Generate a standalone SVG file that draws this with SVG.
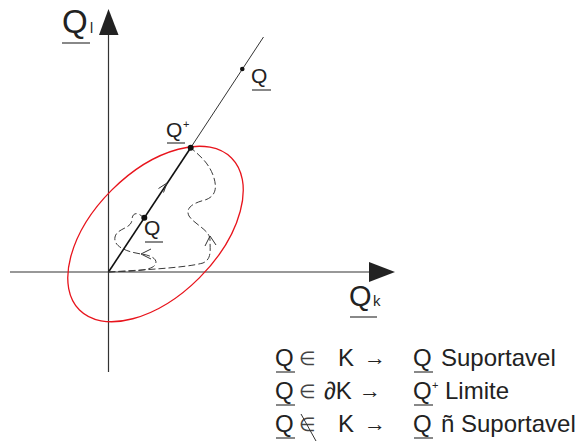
<svg xmlns="http://www.w3.org/2000/svg" width="582" height="445" viewBox="0 0 582 445">
<style>
text{font-family:"Liberation Sans",Arial,sans-serif;fill:#222}
.ax{stroke:#333;stroke-width:1.2;fill:none}
.ul{stroke:#555;stroke-width:1.4}
.dash{stroke:#3a3a3a;stroke-width:1;fill:none;stroke-dasharray:7 3}
.chev{stroke:#333;stroke-width:1;fill:none}
.lab{font-size:21px}
.leg{font-size:24px}
.el{font-size:19px;fill:#444}
.ar{font-size:22px}
</style>
<rect width="582" height="445" fill="#fff"/>
<g id="axes">
<line class="ax" x1="108.5" y1="30" x2="108.5" y2="372"/>
<polygon points="108.5,9 99,35 118.5,35" fill="#222"/>
<line class="ax" x1="10" y1="272" x2="372" y2="272"/>
<polygon points="395,272 369,262 369,282" fill="#222"/>
<text x="62" y="33" font-size="33">Q</text>
<text x="90" y="33" font-size="14">l</text>
<line class="ul" x1="62" y1="43" x2="90" y2="43"/>
<text x="349" y="306" font-size="29">Q</text>
<text x="373" y="306" font-size="15">k</text>
<line class="ul" x1="350" y1="317" x2="377" y2="317"/>
</g>
<g id="ellipse">
<ellipse cx="155.5" cy="234" rx="107.5" ry="62" transform="rotate(-45 155.5 234)" fill="none" stroke="#e8141c" stroke-width="1.3"/>
</g>
<g id="connectors">
<line x1="108.5" y1="272" x2="190.7" y2="147.7" stroke="#111" stroke-width="1.6"/>
<line x1="190.7" y1="147.7" x2="263.5" y2="37" stroke="#333" stroke-width="1"/>
<polyline class="chev" points="158.5,188.5 167,183 163.5,192.5"/>
<path class="dash" d="M108.5,272 C125,271 150,272 155,265 C159,259 150,255 141,254 C128,252 113,247 115,237 C117,228 131,229 132,220 C132,213 137,211 144,218"/>
<polyline class="chev" points="151,249 141,254 151,259"/>
<path class="dash" d="M108.5,272 C140,270 185,268 203,263 C212,259 210,250 210,240 C210,230 195,225 189,216 C185,208 193,203 205,200 C217,196 217,186 213,175 C208,162 199,155 191,148"/>
<polyline class="chev" points="205,246 210,236 216,245"/>
</g>
<g id="node-Qplus">
<circle cx="190.7" cy="147.7" r="3" fill="#111"/>
<text class="lab" x="166" y="137">Q</text>
<text x="183" y="128" font-size="11">+</text>
<line class="ul" x1="167" y1="143" x2="185" y2="143"/>
</g>
<g id="node-Q-mid">
<circle cx="144.3" cy="217.7" r="3" fill="#111"/>
<text class="lab" x="144" y="235">Q</text>
<line class="ul" x1="145" y1="242" x2="163" y2="242"/>
</g>
<g id="node-Q-top">
<circle cx="242.3" cy="69" r="2.3" fill="#111"/>
<text class="lab" x="251" y="83">Q</text>
<line class="ul" x1="252" y1="90" x2="271" y2="90"/>
</g>
<g id="legend">
<text class="leg" x="275" y="366">Q</text>
<line class="ul" x1="276" y1="372" x2="295" y2="372"/>
<text class="el" x="299" y="365">∈</text>
<text class="leg" x="338" y="366">K</text>
<text class="ar" x="364" y="365">→</text>
<text class="leg" x="413" y="366">Q</text>
<line class="ul" x1="414" y1="372" x2="433" y2="372"/>
<text class="leg" x="441" y="366">Suportavel</text>

<text class="leg" x="275" y="399">Q</text>
<line class="ul" x1="276" y1="405" x2="295" y2="405"/>
<text class="el" x="299" y="398">∈</text>
<text class="leg" x="324" y="399">∂K</text>
<text class="ar" x="359" y="398">→</text>
<text class="leg" x="413" y="399">Q</text>
<text x="432" y="389" font-size="11">+</text>
<line class="ul" x1="414" y1="405" x2="433" y2="405"/>
<text class="leg" x="445" y="399">Limite</text>

<text class="leg" x="275" y="432">Q</text>
<line class="ul" x1="276" y1="438" x2="295" y2="438"/>
<text class="el" x="299" y="431">∈</text>
<line x1="301" y1="414" x2="316" y2="441" stroke="#333" stroke-width="1"/>
<text class="leg" x="338" y="432">K</text>
<text class="ar" x="364" y="431">→</text>
<text class="leg" x="413" y="432">Q</text>
<line class="ul" x1="414" y1="438" x2="433" y2="438"/>
<text class="leg" x="441" y="432">ñ Suportavel</text>
</g>
</svg>
